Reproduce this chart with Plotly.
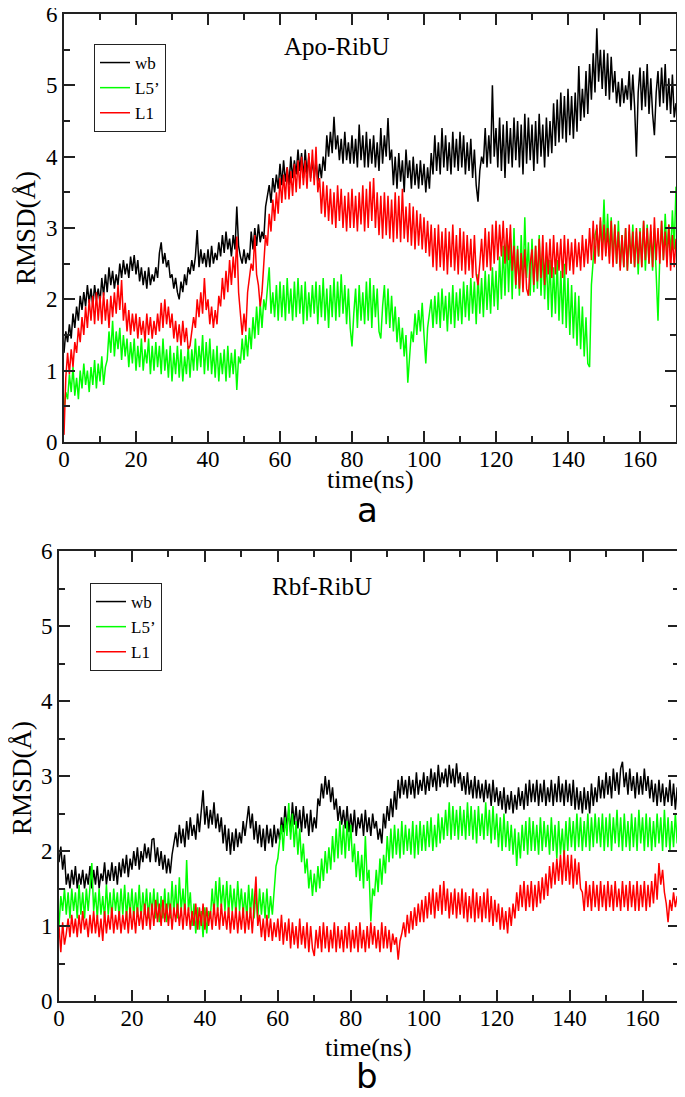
import plotly.graph_objects as go

# ---------------- data (0.5 ns sampling, 0..170 ns) ----------------
time_ns = [i * 0.5 for i in range(341)]

# Panel a : Apo-RibU
apo_wb = [
 1.25,1.55,1.4,1.65,1.45,1.8,1.6,1.9,1.7,2.05,1.85,2.1,1.9,2.2,1.95,2.15,1.9,2.2,2.0,2.15,
 1.95,2.3,2.05,2.35,2.1,2.45,2.2,2.4,2.15,2.35,2.2,2.5,2.3,2.55,2.35,2.5,2.3,2.6,2.4,2.62,
 2.35,2.55,2.25,2.45,2.2,2.4,2.15,2.45,2.2,2.35,2.25,2.45,2.3,2.65,2.8,2.5,2.65,2.45,2.55,2.3,
 2.35,2.15,2.3,2.1,2.0,2.25,2.1,2.35,2.2,2.45,2.35,2.55,2.4,2.6,2.97,2.45,2.7,2.5,2.65,2.45,
 2.7,2.45,2.75,2.5,2.65,2.55,2.8,2.6,2.9,2.65,2.95,2.7,2.85,2.6,2.9,2.7,3.3,2.75,2.6,2.5,
 2.7,2.5,2.65,2.55,2.95,2.7,3.0,2.75,3.05,2.8,2.95,2.85,3.3,3.45,3.6,3.35,3.7,3.5,3.75,3.55,
 3.9,3.6,3.95,3.65,3.85,3.6,4.0,3.7,3.95,3.75,4.1,3.8,4.05,3.7,4.1,3.75,4.0,3.7,3.95,3.7,
 3.95,3.65,3.9,3.7,4.0,3.8,4.3,4.0,4.35,4.05,4.56,4.1,4.3,3.95,4.25,3.9,4.35,3.95,4.2,3.9,
 4.3,3.9,4.25,3.85,4.45,3.95,4.3,3.85,4.35,3.85,4.25,3.9,4.3,3.85,4.2,3.8,4.4,3.9,4.3,4.0,
 4.54,3.95,4.1,3.6,4.0,3.55,4.05,3.65,3.95,3.5,4.1,3.7,3.95,3.55,4.0,3.6,3.9,3.55,3.95,3.6,
 3.9,3.5,3.85,3.55,4.05,3.75,4.3,3.8,4.2,3.75,4.4,3.85,4.3,3.8,4.2,3.75,4.35,3.85,4.25,3.8,
 4.35,3.85,4.3,3.75,4.2,3.8,4.25,3.7,4.1,3.6,3.37,3.8,4.0,3.9,4.4,3.85,4.3,3.9,5.0,4.0,
 4.4,3.85,4.55,3.8,4.45,3.7,4.5,3.9,4.4,3.85,4.55,3.95,4.5,3.85,4.45,3.75,4.6,3.9,4.55,3.95,
 4.45,3.8,4.5,3.9,4.6,4.0,4.45,3.85,4.55,4.0,4.5,4.05,4.75,4.15,4.8,4.2,4.9,4.25,4.85,4.2,
 4.95,4.3,4.85,4.25,4.9,4.35,5.27,4.5,4.95,4.55,5.2,4.6,5.3,4.8,5.45,4.9,5.8,5.05,5.5,4.95,
 5.5,4.85,5.45,4.8,5.4,4.9,5.2,4.75,5.05,4.7,5.1,4.75,5.0,4.8,5.2,4.65,5.15,4.7,4.0,4.9,
 5.25,4.65,5.2,4.7,5.3,4.6,5.1,4.6,4.3,4.9,5.2,4.7,5.25,4.75,5.3,4.65,5.1,4.6,5.15,4.55,
 4.75]
apo_l5 = [
 0.45,0.7,0.6,0.95,0.7,1.05,0.65,0.9,0.6,1.0,0.75,1.1,0.8,1.0,0.7,1.05,0.8,1.15,0.75,1.1,
 0.85,1.2,0.8,1.05,1.15,1.55,1.25,1.7,1.2,1.55,1.3,1.6,1.15,1.5,1.2,1.45,1.05,1.4,1.1,1.45,
 1.0,1.35,1.05,1.45,1.0,1.3,1.1,1.45,0.95,1.35,1.0,1.4,1.05,1.35,0.95,1.45,1.0,1.3,0.9,1.35,
 0.85,1.25,0.95,1.35,0.9,1.3,0.85,1.2,0.95,1.35,0.9,1.3,1.0,1.45,1.0,1.35,1.05,1.5,0.95,1.4,
 1.0,1.45,0.95,1.3,0.9,1.35,0.85,1.25,0.95,1.3,0.85,1.35,0.9,1.25,0.95,1.3,0.73,1.2,1.1,1.45,
 1.15,1.5,1.2,1.6,1.3,1.75,1.45,1.9,1.5,1.95,1.6,2.0,1.85,2.2,2.45,1.8,2.1,1.75,2.2,1.7,
 2.25,1.75,2.2,1.7,2.3,1.8,2.15,1.7,2.25,1.75,2.3,1.8,2.2,1.65,2.25,1.7,2.1,1.75,2.2,1.8,
 2.25,1.65,2.2,1.75,2.3,1.7,2.15,1.6,2.2,1.75,2.3,1.7,2.25,1.75,2.35,1.8,2.2,1.65,2.15,1.6,
 1.34,1.8,2.15,1.6,2.2,1.7,2.1,1.65,2.25,1.7,2.3,1.6,2.2,1.75,2.15,1.55,1.45,1.9,2.2,1.65,
 2.15,1.6,2.05,1.55,1.9,1.4,1.75,1.3,1.6,1.2,1.5,0.83,1.2,1.55,1.4,1.8,1.5,1.85,1.55,1.95,
 1.5,1.1,1.6,1.85,2.0,1.6,2.05,1.65,2.1,1.6,2.15,1.7,2.05,1.55,2.1,1.65,2.2,1.6,2.1,1.7,
 2.15,1.65,2.25,1.75,2.2,1.7,2.3,1.8,2.25,1.65,2.35,1.8,2.3,1.75,2.4,1.85,2.35,1.8,2.45,1.9,
 2.4,1.85,2.6,2.0,2.75,2.05,2.9,2.1,2.85,2.0,3.0,2.15,2.75,2.05,2.9,2.2,3.15,2.3,2.8,2.05,
 2.85,2.1,2.75,2.15,2.9,2.05,2.7,2.0,2.6,1.85,2.55,1.75,2.45,1.8,2.55,1.7,2.4,1.65,2.5,1.6,
 2.3,1.5,2.2,1.45,2.1,1.35,2.05,1.3,1.9,1.2,1.75,1.1,1.05,2.2,2.6,2.9,3.0,2.6,3.1,2.7,
 3.4,2.65,3.2,2.6,3.15,2.55,3.05,2.5,3.1,2.45,2.9,2.45,3.0,2.4,2.95,2.5,3.05,2.45,2.95,2.35,
 3.0,2.45,3.1,2.4,3.05,2.5,2.95,2.4,3.0,2.3,1.7,2.6,3.1,2.55,3.2,2.65,3.05,2.6,3.25,2.7,
 3.58]
apo_l1 = [
 0.1,0.9,1.25,0.95,1.3,1.05,1.4,1.25,1.6,1.4,1.75,1.5,1.9,1.6,2.0,1.7,2.05,1.65,2.1,1.7,
 2.05,1.65,2.1,1.7,2.0,1.6,2.05,1.75,2.1,1.8,2.2,1.85,2.27,1.7,1.95,1.55,1.85,1.5,1.8,1.55,
 1.8,1.45,1.75,1.5,1.7,1.4,1.8,1.5,1.75,1.45,1.7,1.5,1.8,1.55,1.95,1.6,2.0,1.65,1.9,1.6,
 1.8,1.45,1.7,1.4,1.65,1.35,1.7,1.4,1.6,1.3,1.35,1.55,1.75,1.6,2.0,1.75,2.1,1.8,2.3,1.85,
 2.0,1.65,1.9,1.6,1.85,1.65,2.05,1.9,2.3,2.0,2.4,2.1,2.55,2.2,2.6,2.3,2.88,2.1,1.75,1.5,
 1.8,1.55,2.1,2.3,2.5,2.4,2.9,2.35,2.2,1.9,2.1,2.5,2.9,2.75,3.2,2.95,3.4,3.1,3.5,3.2,
 3.7,3.35,3.75,3.4,3.85,3.4,3.8,3.45,3.9,3.5,3.95,3.55,4.0,3.6,3.95,3.55,4.05,3.65,4.1,3.6,
 4.14,3.5,3.7,3.2,3.65,3.15,3.6,3.1,3.55,3.05,3.5,3.0,3.6,3.1,3.55,3.0,3.45,2.95,3.5,3.0,
 3.55,3.0,3.45,2.95,3.5,3.05,3.6,2.95,3.55,3.0,3.65,3.1,3.7,3.0,3.5,2.9,3.45,2.85,3.5,2.9,
 3.45,2.85,3.4,2.8,3.5,2.85,3.45,2.8,3.55,2.85,3.3,2.8,3.35,2.75,3.3,2.7,3.25,2.75,3.2,2.7,
 3.15,2.65,3.1,2.6,3.05,2.45,3.0,2.4,3.05,2.45,2.95,2.4,3.0,2.35,2.95,2.45,3.05,2.4,2.9,2.35,
 3.0,2.4,2.95,2.35,2.9,2.4,2.85,2.3,2.9,2.35,2.2,2.5,2.85,2.4,3.0,2.45,2.95,2.4,3.05,2.5,
 3.1,2.55,3.05,2.6,3.1,2.5,3.0,2.55,3.05,2.4,2.75,2.2,2.7,2.15,2.65,2.1,2.7,2.15,2.05,2.5,
 2.7,2.2,2.75,2.25,2.85,2.3,2.9,2.2,2.8,2.35,2.85,2.3,2.9,2.35,2.8,2.4,2.85,2.3,2.9,2.35,
 2.85,2.4,2.8,2.35,2.85,2.45,2.8,2.4,2.9,2.45,2.85,2.5,3.0,2.55,3.1,2.5,3.05,2.6,3.15,2.55,
 3.05,2.6,3.0,2.5,3.1,2.45,3.05,2.5,2.95,2.4,2.9,2.45,3.0,2.4,3.05,2.5,2.95,2.45,3.0,2.5,
 2.95,2.45,3.1,2.55,3.0,2.5,3.05,2.45,3.15,2.55,3.0,2.5,3.1,2.55,2.95,2.45,3.05,2.4,2.9,2.45,
 2.85]

# Panel b : Rbf-RibU
rbf_wb = [
 1.85,2.06,1.75,1.95,1.55,1.7,1.5,1.75,1.55,1.8,1.5,1.7,1.55,1.75,1.5,1.7,1.55,1.8,1.5,1.75,
 1.55,1.8,1.5,1.7,1.6,1.85,1.55,1.75,1.6,1.85,1.6,1.8,1.55,1.85,1.65,1.9,1.7,1.95,1.65,1.9,
 1.75,2.0,1.8,2.05,1.75,2.0,1.85,2.1,1.9,2.05,1.85,2.15,2.17,1.85,2.05,1.8,2.0,1.75,1.95,1.7,
 1.9,1.7,1.95,2.1,2.25,2.05,2.35,2.1,2.3,2.05,2.4,2.15,2.45,2.2,2.35,2.15,2.5,2.25,2.55,2.81,
 2.35,2.6,2.3,2.55,2.35,2.65,2.3,2.5,2.25,2.45,2.1,2.35,2.0,2.3,1.95,2.25,2.0,2.3,2.05,2.25,
 2.1,2.4,2.2,2.45,2.6,2.3,2.5,2.15,2.4,2.1,2.35,2.05,2.3,2.0,2.35,2.1,2.3,2.05,2.35,2.1,
 2.3,2.15,2.45,2.25,2.6,2.3,2.55,2.25,2.65,2.35,2.6,2.3,2.55,2.25,2.6,2.3,2.5,2.2,2.55,2.25,
 2.45,2.3,2.7,2.6,2.9,2.7,3.0,2.75,2.95,2.65,2.85,2.55,2.7,2.4,2.6,2.35,2.55,2.3,2.6,2.25,
 2.5,2.25,2.55,2.2,2.45,2.3,2.5,2.2,2.55,2.25,2.45,2.2,2.5,2.3,2.4,2.15,2.3,2.1,2.5,2.3,
 2.6,2.4,2.7,2.45,2.8,2.55,2.95,2.7,3.0,2.75,2.95,2.7,3.0,2.75,2.95,2.7,3.05,2.75,2.95,2.8,
 3.05,2.75,3.0,2.8,3.1,2.85,3.05,2.8,3.15,2.85,3.05,2.9,3.1,2.85,3.15,2.9,3.1,2.85,3.17,2.9,
 3.05,2.8,3.0,2.75,3.05,2.75,2.95,2.7,3.0,2.7,2.95,2.7,2.9,2.65,2.95,2.7,2.9,2.6,2.95,2.65,
 2.85,2.6,2.8,2.55,2.85,2.5,2.75,2.55,2.8,2.5,2.75,2.55,2.85,2.6,2.8,2.55,2.9,2.6,2.95,2.65,
 2.9,2.65,2.95,2.6,2.9,2.65,2.95,2.6,2.85,2.65,2.95,2.6,2.9,2.65,3.0,2.65,2.9,2.6,2.95,2.65,
 2.9,2.6,2.95,2.55,2.85,2.55,2.8,2.5,2.85,2.55,2.8,2.5,2.9,2.6,2.85,2.65,3.0,2.7,2.95,2.7,
 3.05,2.75,3.0,2.7,3.1,2.8,3.05,2.75,3.1,3.19,2.85,3.05,2.75,3.1,2.8,3.0,2.7,3.05,2.75,3.0,
 2.75,3.1,2.8,3.0,2.7,2.95,2.65,2.9,2.6,2.95,2.65,2.9,2.6,2.85,2.65,2.95,2.6,2.9,2.55,2.85,
 2.7]
rbf_l5 = [
 1.0,1.4,1.2,1.5,1.15,1.45,1.1,1.5,1.2,1.45,1.1,1.55,1.15,1.45,1.1,1.5,1.2,1.6,1.84,1.2,
 1.45,1.1,1.5,1.15,1.4,1.1,1.55,1.15,1.45,1.1,1.5,1.2,1.45,1.1,1.5,1.15,1.55,1.1,1.45,1.15,
 1.5,1.1,1.45,1.15,1.55,1.1,1.45,1.15,1.5,1.1,1.45,1.15,1.5,1.1,1.45,1.05,1.4,1.1,1.5,1.05,
 1.45,1.1,1.6,1.15,1.55,1.1,1.65,1.2,1.5,1.15,1.88,1.2,1.45,1.0,1.3,0.9,1.25,0.95,1.2,0.85,
 1.25,0.9,1.2,1.1,1.5,1.15,1.6,1.2,1.65,1.25,1.55,1.2,1.6,1.15,1.55,1.2,1.5,1.15,1.6,1.2,
 1.5,1.15,1.45,1.1,1.55,1.15,1.5,1.1,1.45,1.1,1.5,1.15,1.45,1.1,1.5,1.1,1.4,1.15,1.5,1.8,
 1.9,2.1,2.35,2.0,2.45,2.2,2.64,2.15,2.5,2.05,2.4,1.95,2.3,1.85,2.1,1.7,1.9,1.5,1.75,1.4,
 1.7,1.45,1.8,1.5,1.9,1.6,2.0,1.7,2.05,1.75,2.2,1.85,2.3,1.9,2.4,1.95,2.35,1.9,2.4,2.0,
 2.35,1.85,2.1,1.65,2.0,1.6,1.95,1.5,2.2,1.6,1.75,1.06,1.5,1.4,1.75,1.45,1.9,1.55,1.95,1.7,
 2.2,1.85,2.3,1.9,2.35,1.95,2.3,1.9,2.4,1.95,2.35,2.0,2.3,1.95,2.4,1.9,2.35,1.95,2.4,2.0,
 2.35,2.0,2.4,2.05,2.45,2.0,2.35,2.05,2.5,2.1,2.45,2.15,2.55,2.2,2.65,2.15,2.6,2.2,2.55,2.15,
 2.6,2.2,2.55,2.15,2.65,2.2,2.6,2.15,2.55,2.1,2.6,2.2,2.5,2.15,2.65,2.2,2.55,2.1,2.6,2.15,
 2.5,2.05,2.45,2.0,2.5,2.05,2.4,2.0,2.35,1.95,2.3,1.8,2.25,1.9,2.35,2.0,2.4,1.95,2.45,2.0,
 2.4,2.0,2.35,1.95,2.45,2.0,2.4,2.05,2.35,1.95,2.45,2.0,2.35,1.9,2.4,1.95,2.3,1.9,2.4,2.0,
 2.45,2.05,2.4,2.0,2.5,2.05,2.45,2.0,2.4,2.05,2.5,2.0,2.45,2.05,2.5,2.1,2.45,2.05,2.5,2.0,
 2.45,2.05,2.5,2.0,2.45,2.1,2.55,2.05,2.45,2.0,2.5,2.05,2.4,2.0,2.5,2.05,2.45,2.0,2.55,2.1,
 2.45,2.0,2.5,2.05,2.45,2.0,2.4,2.05,2.5,2.1,2.45,2.0,2.55,2.05,2.45,2.0,2.4,2.05,2.5,2.1,
 2.2]
rbf_l1 = [
 1.0,0.65,1.05,0.75,0.9,1.1,0.85,1.15,0.9,1.1,0.85,1.15,0.9,1.2,0.95,1.1,0.85,1.15,0.9,1.2,
 0.9,1.15,0.85,1.1,0.8,1.2,0.9,1.15,0.95,1.25,0.9,1.15,0.95,1.2,0.9,1.15,0.95,1.2,0.9,1.25,
 0.95,1.2,0.9,1.25,1.0,1.2,0.95,1.3,1.0,1.25,0.95,1.3,1.0,1.35,1.05,1.3,1.0,1.35,1.05,1.3,
 1.0,1.3,0.95,1.25,1.05,1.3,1.0,1.25,0.95,1.3,1.0,1.25,0.95,1.2,1.0,1.3,0.95,1.25,1.0,1.3,
 0.95,1.25,1.0,1.2,0.95,1.3,1.0,1.25,0.95,1.3,1.0,1.2,0.95,1.25,0.9,1.2,0.95,1.25,0.9,1.2,
 0.95,1.25,0.9,1.2,0.95,1.25,0.9,1.35,1.66,1.0,1.15,0.85,1.1,0.8,1.15,0.85,1.1,0.8,1.05,0.85,
 1.1,0.8,1.15,0.75,1.05,0.8,1.1,0.7,1.05,0.75,1.0,0.7,1.1,0.75,1.0,0.7,1.05,0.65,1.0,0.7,
 0.6,0.95,0.7,1.0,0.65,1.05,0.7,1.0,0.65,0.95,0.7,1.05,0.65,1.0,0.7,0.95,0.65,1.0,0.7,1.05,
 0.65,0.95,0.7,1.0,0.65,1.05,0.7,0.95,0.65,1.0,0.7,1.05,0.75,1.0,0.7,0.95,0.65,1.05,0.7,1.0,
 0.7,0.95,0.65,0.9,0.75,0.85,0.55,0.8,0.9,1.05,0.85,1.15,0.9,1.2,0.95,1.25,1.0,1.3,1.05,1.35,
 1.05,1.4,1.1,1.45,1.15,1.5,1.1,1.45,1.2,1.55,1.15,1.6,1.2,1.5,1.1,1.45,1.15,1.5,1.1,1.45,
 1.15,1.5,1.1,1.45,1.05,1.4,1.1,1.5,1.05,1.45,1.1,1.4,1.05,1.45,1.1,1.5,1.05,1.4,1.0,1.35,
 1.05,1.3,0.95,1.25,0.95,1.2,0.9,1.25,1.0,1.3,1.1,1.45,1.2,1.55,1.25,1.6,1.2,1.55,1.25,1.6,
 1.2,1.55,1.25,1.6,1.3,1.65,1.35,1.7,1.4,1.8,1.5,1.85,1.55,1.9,1.6,1.95,1.55,2.01,1.6,1.95,
 1.55,1.95,1.5,1.9,1.55,1.85,1.5,1.45,1.2,1.6,1.25,1.55,1.2,1.6,1.25,1.55,1.2,1.6,1.25,1.55,
 1.2,1.6,1.25,1.55,1.2,1.6,1.25,1.5,1.2,1.6,1.25,1.55,1.2,1.6,1.25,1.55,1.2,1.6,1.2,1.55,
 1.25,1.6,1.2,1.55,1.25,1.6,1.3,1.7,1.35,1.84,1.55,1.75,1.45,1.3,1.05,1.35,1.2,1.45,1.25,1.4,
 1.3]

series_names = ["wb", "L5\u2019", "L1"]
series_colors = ["#000000", "#00ff00", "#ff0000"]
x_ticks = [0, 20, 40, 60, 80, 100, 120, 140, 160]
y_ticks = [0, 1, 2, 3, 4, 5, 6]

# ---------------- figure ----------------
W, H = 685, 1097
OFF = 8  # the page body margin shifts the figure by 8 px; compensate
def px(x):
    return (x - OFF) / W
def py(y):
    return 1 - (y - OFF) / H

SERIF = "Liberation Serif"
fig = go.Figure()

panels = [
    dict(data=[apo_wb, apo_l5, apo_l1], xa="x", ya="y", leg="legend"),
    dict(data=[rbf_wb, rbf_l5, rbf_l1], xa="x2", ya="y2", leg="legend2"),
]
for p in panels:
    for name, color, ys in zip(series_names, series_colors, p["data"]):
        fig.add_trace(go.Scatter(x=time_ns[:len(ys)], y=ys, mode="lines", name=name,
                                 line=dict(color=color, width=1.5),
                                 xaxis=p["xa"], yaxis=p["ya"], legend=p["leg"]))

legend_common = dict(xanchor="left", yanchor="top", bgcolor="white", bordercolor="#222222",
                     borderwidth=1, font=dict(family=SERIF, size=17, color="#000000"),
                     tracegroupgap=0, itemwidth=30)

fig.update_layout(
    width=W, height=H, margin=dict(l=0, r=0, t=0, b=0, pad=0, autoexpand=False),
    autosize=False,
    font=dict(family=SERIF, size=23, color="#000000"),
    paper_bgcolor="white", plot_bgcolor="white", showlegend=True,
    xaxis=dict(domain=[px(64), px(676)], anchor="y"),
    yaxis=dict(domain=[py(442), py(14)], anchor="x"),
    xaxis2=dict(domain=[px(59), px(679)], anchor="y2"),
    yaxis2=dict(domain=[py(1001), py(551)], anchor="x2"),
    legend=dict(legend_common, x=px(94), y=py(44)),
    legend2=dict(legend_common, x=px(90), y=py(583)),
)

axis_style = dict(showline=True, linecolor="#222222", linewidth=2, mirror="allticks",
                  ticks="inside", ticklen=11, tickwidth=2, tickcolor="#222222",
                  showgrid=False, zeroline=False, automargin=False,
                  ticklabeloverflow="allow",
                  tickfont=dict(family=SERIF, size=23, color="#000000"))
fig.update_xaxes(axis_style)
fig.update_yaxes(axis_style)
fig.update_xaxes(range=[0, 170], tickmode="array", tickvals=x_ticks, ticklabelstandoff=-5,
                 minor=dict(ticks="inside", ticklen=6, tickwidth=2, dtick=10, tick0=0,
                            tickcolor="#222222", showgrid=False))
fig.update_yaxes(range=[0, 6], tickmode="array", tickvals=y_ticks,
                 minor=dict(ticks="inside", ticklen=6, tickwidth=2, dtick=0.5, tick0=0,
                            tickcolor="#222222", showgrid=False))

ann = [
    dict(text="Apo-RibU", x=px(337), y=py(46), font=dict(family=SERIF, size=25)),
    dict(text="Rbf-RibU", x=px(322), y=py(586), font=dict(family=SERIF, size=25)),
    dict(text="time(ns)", x=px(370), y=py(480), font=dict(family=SERIF, size=26)),
    dict(text="time(ns)", x=px(369), y=py(1047), font=dict(family=SERIF, size=26)),
    dict(text="RMSD(\u00c5)", x=px(26), y=py(228), textangle=-90, font=dict(family=SERIF, size=27)),
    dict(text="RMSD(\u00c5)", x=px(22), y=py(778), textangle=-90, font=dict(family=SERIF, size=27)),
    dict(text="a", x=px(367), y=py(510), font=dict(family="DejaVu Sans", size=34)),
    dict(text="b", x=px(367), y=py(1076), font=dict(family="DejaVu Sans", size=34)),
]
for a in ann:
    a.update(xref="paper", yref="paper", showarrow=False, xanchor="center", yanchor="middle")
    a["font"]["color"] = "#000000"
fig.update_layout(annotations=ann)

fig.write_html("out.html")
